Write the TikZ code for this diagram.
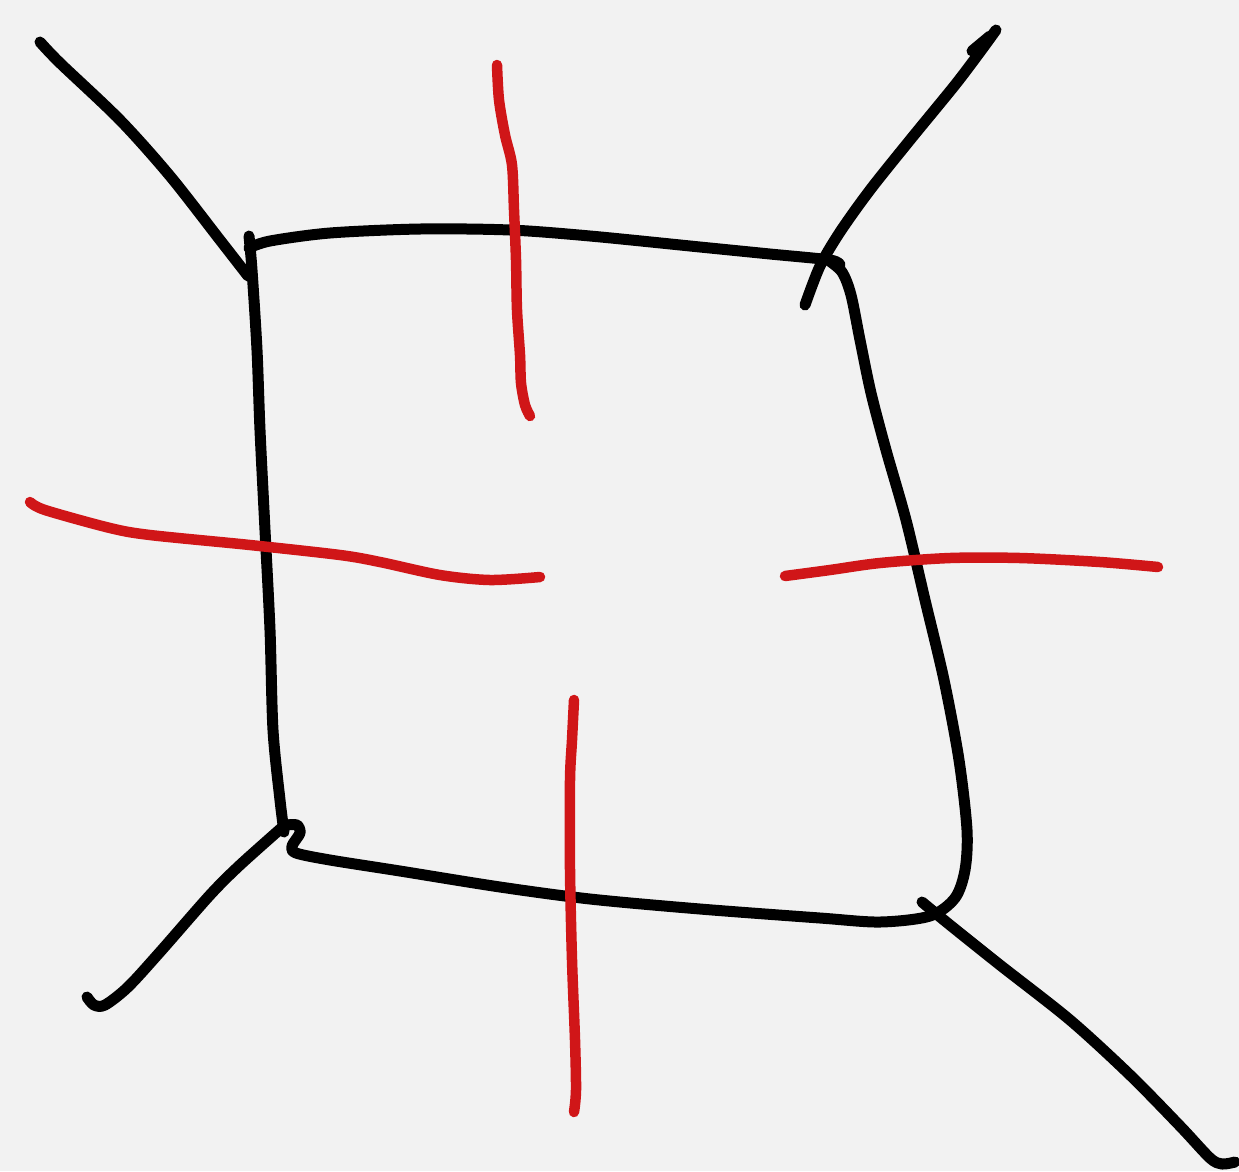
\documentclass[tikz,border=0pt]{standalone}
\begin{document}
\begin{tikzpicture}[x=1pt,y=-1pt,
  ink/.style={line width=11pt,line cap=round,line join=round,black},
  redink/.style={line width=10.5pt,line cap=round,line join=round,color={rgb,255:red,208;green,22;blue,24}}]
\fill[color={rgb,255:red,242;green,242;blue,242}] (0,0) rectangle (1239,1171);
\useasboundingbox (0,0) rectangle (1239,1171);
% top edge
\draw[ink] plot[smooth,tension=0.5] coordinates {(249,248) (270,241) (330,233) (420,229) (510,230) (590,236) (700,247) (770,254) (830,260) (840,265)};
% left edge
\draw[ink] plot[smooth,tension=0.5] coordinates {(249,236) (252,270) (257,350) (260,430) (265,530) (270,630) (273,730) (280,800) (284,832)};
% upper-left diagonal
\draw[ink] plot[smooth,tension=0.5] coordinates {(40,42) (60,63) (120,120) (170,176) (220,240) (248,276)};
% right and bottom edges
\draw[ink] plot[smooth,tension=0.5] coordinates {(828,260) (842,272) (851,295) (860,340) (871,393) (886,450) (906,520) (925,600) (944,680) (959,760) (967,830) (965,870) (955,898) (930,916) (880,922) (820,918) (700,909) (590,899) (500,887) (400,871) (330,860) (296,853) (292,846) (300,833) (297,825) (287,825)};
% lower-left tail
\draw[ink] plot[smooth,tension=0.5] coordinates {(286,824) (240,865) (210,895) (160,952) (128,987) (105,1005) (94,1005) (87,997)};
% upper-right diagonal
\draw[ink] plot[smooth,tension=0.5] coordinates {(996,30) (980,52) (955,85) (910,140) (870,190) (840,232) (820,266) (805,305)};
\draw[ink] (990,36) -- (972,51);
% lower-right diagonal
\draw[ink] plot[smooth,tension=0.5] coordinates {(922,902) (950,925) (1000,965) (1070,1020) (1130,1075) (1180,1126) (1210,1158) (1222,1164) (1235,1162)};
% red strokes
\draw[redink] plot[smooth,tension=0.5] coordinates {(497,65) (499,100) (505,135) (512,165) (514,210) (516,260) (517,310) (520,355) (521,383) (525,405) (530,416)};
\draw[redink] plot[smooth,tension=0.5] coordinates {(30,502) (45,510) (110,528) (150,535) (250,545) (340,555) (380,562) (440,575) (490,580) (540,577)};
\draw[redink] plot[smooth,tension=0.5] coordinates {(785,576) (830,570) (880,563) (950,558) (1020,558) (1100,562) (1158,567)};
\draw[redink] plot[smooth,tension=0.5] coordinates {(574,700) (572,740) (570,780) (570,870) (572,960) (575,1040) (576,1090) (574,1112)};
\end{tikzpicture}
\end{document}
